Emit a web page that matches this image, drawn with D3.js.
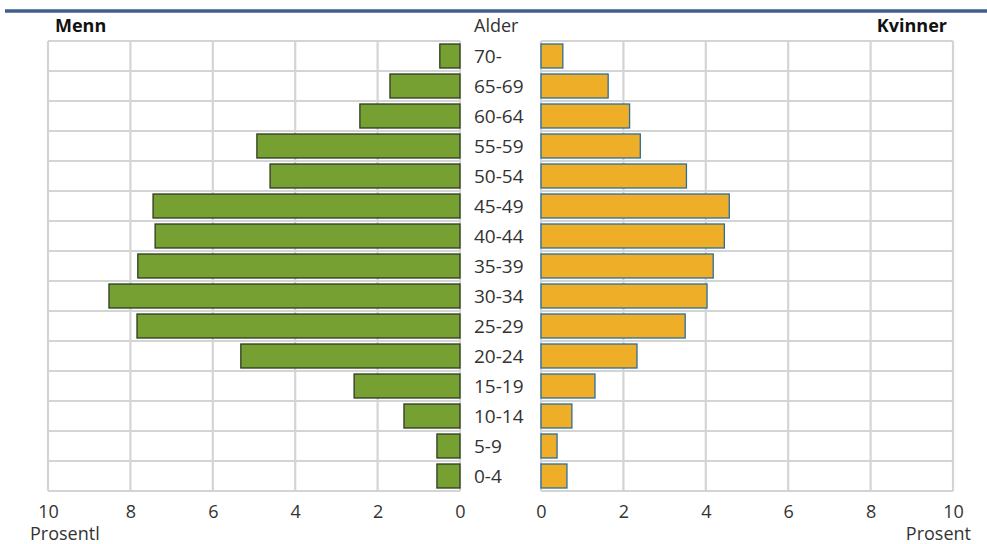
<!DOCTYPE html>
<html><head><meta charset="utf-8">
<script src="https://cdn.jsdelivr.net/npm/d3@7"></script>
<style>
html,body{margin:0;padding:0;background:#fff;}
svg{display:block;font-family:"Open Sans","Noto Sans",sans-serif;}
</style></head>
<body>
<svg id="chart" width="987" height="544"></svg>
<script>
const ages = ["70-","65-69","60-64","55-59","50-54","45-49","40-44","35-39","30-34","25-29","20-24","15-19","10-14","5-9","0-4"];
const menn = [0.49,1.7,2.43,4.93,4.61,7.45,7.4,7.82,8.52,7.84,5.32,2.57,1.36,0.56,0.56];
const kvinner = [0.53,1.63,2.15,2.41,3.53,4.57,4.45,4.18,4.03,3.5,2.33,1.31,0.75,0.39,0.63];
const ticks = [0,2,4,6,8,10];

const svg = d3.select("#chart");
const gTop = 41, gBottom = 491;
const xL = d3.scaleLinear().domain([0,10]).range([460,48]);
const xR = d3.scaleLinear().domain([0,10]).range([541,953]);
const y = d3.scaleBand().domain(ages).range([gTop,gBottom]).paddingInner(0.2).paddingOuter(0.1);
const rowH = (gBottom-gTop)/ages.length;

svg.append("line").attr("x1",5).attr("x2",987).attr("y1",11).attr("y2",11)
  .attr("stroke","#3f5f8f").attr("stroke-width",3.5);

const grid = "#d4d4d4";
function panel(x){
  const g = svg.append("g");
  for(let i=0;i<=ages.length;i++){
    g.append("line").attr("x1",x(0)).attr("x2",x(10))
      .attr("y1",gTop+i*rowH).attr("y2",gTop+i*rowH)
      .attr("stroke",grid).attr("stroke-width",2.2);
  }
  ticks.forEach(t=>{
    g.append("line").attr("x1",x(t)).attr("x2",x(t)).attr("y1",gTop).attr("y2",gBottom)
      .attr("stroke",grid).attr("stroke-width",2.2);
  });
  const ax = svg.append("g").attr("transform",`translate(0,${gBottom})`)
    .call(d3.axisBottom(x).tickValues(ticks).tickSize(0).tickPadding(14));
  ax.select(".domain").remove();
  ax.selectAll("text").attr("font-size",18).attr("fill","#333")
    .attr("font-family","'Open Sans','Noto Sans',sans-serif");
}
panel(xL); panel(xR);

svg.append("g").selectAll("rect").data(ages).join("rect")
  .attr("x",(d,i)=>xL(menn[i])).attr("width",(d,i)=>xL(0)-xL(menn[i]))
  .attr("y",d=>y(d)).attr("height",y.bandwidth())
  .attr("fill","#76a032").attr("stroke","#2e3a22").attr("stroke-width",1.3);
svg.append("g").selectAll("rect").data(ages).join("rect")
  .attr("x",xR(0)).attr("width",(d,i)=>xR(kvinner[i])-xR(0))
  .attr("y",d=>y(d)).attr("height",y.bandwidth())
  .attr("fill","#efae28").attr("stroke","#2a6f9a").attr("stroke-width",1.3);

svg.append("g").selectAll("text").data(ages).join("text")
  .attr("x",474).attr("y",d=>y(d)+y.bandwidth()/2).attr("dy","0.36em")
  .attr("font-size",19).attr("fill","#333").text(d=>d);

svg.append("text").attr("x",55).attr("y",32).attr("font-size",18).attr("font-weight","bold").attr("fill","#111").text("Menn");
svg.append("text").attr("x",947).attr("y",32).attr("text-anchor","end").attr("font-size",18).attr("font-weight","bold").attr("fill","#111").text("Kvinner");
svg.append("text").attr("x",474).attr("y",32).attr("font-size",18).attr("fill","#333").text("Alder");
svg.append("text").attr("x",30).attr("y",540).attr("font-size",18).attr("fill","#333").text("Prosentl");
svg.append("text").attr("x",971).attr("y",540).attr("text-anchor","end").attr("font-size",18).attr("fill","#333").text("Prosent");
</script>
</body></html>
